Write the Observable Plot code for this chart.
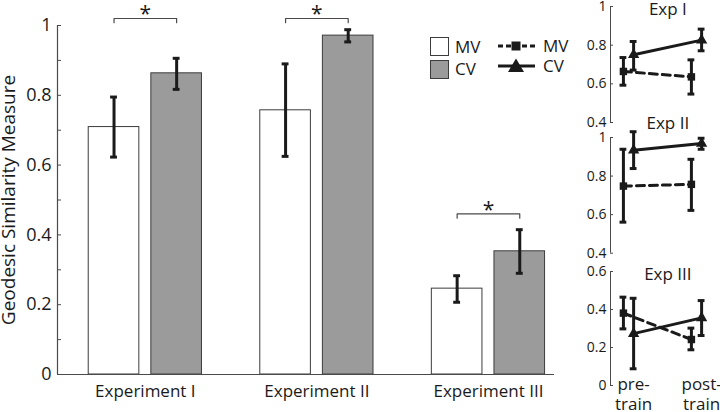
<!DOCTYPE html>
<html><head><meta charset="utf-8">
<script src="https://cdn.jsdelivr.net/npm/d3@7"></script>
<script src="https://cdn.jsdelivr.net/npm/@observablehq/plot@0.6"></script>
<style>
body{margin:0;background:#fff;}
#chart{position:relative;width:720px;height:412px;overflow:hidden;font-family:"Open Sans",sans-serif;background:#fff;}
#chart > svg{position:absolute;background:transparent;overflow:visible;}
</style></head><body><div id="chart"></div>
<script>
// ---------- main bar chart data ----------
const experiments = ["Experiment I", "Experiment II", "Experiment III"];
const conditions = ["MV", "CV"];
const mvMean = [0.709, 0.757, 0.246];
const mvLow  = [0.623, 0.625, 0.207];
const mvHigh = [0.795, 0.890, 0.283];
const cvMean = [0.863, 0.971, 0.353];
const cvLow  = [0.817, 0.953, 0.290];
const cvHigh = [0.906, 0.988, 0.415];
const sigLevel = [1.02, 1.02, 0.46];   // height of significance brackets
const yTicks = [0, 0.2, 0.4, 0.6, 0.8, 1];
const yMinorTicks = [0, 0.1, 0.2, 0.3, 0.4, 0.5, 0.6, 0.7, 0.8, 0.9, 1];
const yLabel = "Geodesic Similarity Measure";

// ---------- small panels data ----------
const panelTitles = ["Exp I", "Exp II", "Exp III"];
const phases = ["pre-\ntrain", "post-\ntrain"];
const panelMV     = [[0.664, 0.636], [0.748, 0.757], [0.381, 0.242]];
const panelMVLow  = [[0.593, 0.547], [0.561, 0.622], [0.298, 0.188]];
const panelMVHigh = [[0.736, 0.724], [0.939, 0.887], [0.465, 0.302]];
const panelCV     = [[0.750, 0.826], [0.934, 0.969], [0.273, 0.356]];
const panelCVLow  = [[0.671, 0.771], [0.839, 0.939], [0.088, 0.263]];
const panelCVHigh = [[0.819, 0.883], [1.030, 0.996], [0.459, 0.447]];
const panelDomains = [[0.4, 1], [0.4, 1], [0, 0.6]];
const panelTicks = [[0.4, 0.6, 0.8, 1], [0.4, 0.6, 0.8, 1], [0, 0.2, 0.4, 0.6]];

// ---------- styles ----------
const INK = "#1a1a1a", AXIS = "#4a4a4a", GRAY = "#9b9b9b";
const chart = document.getElementById("chart");

// ---------- main chart ----------
const rows = experiments.flatMap((e, i) => [
  {exp: e, i: i + 1, cond: "MV", side: -1, v: mvMean[i], lo: mvLow[i], hi: mvHigh[i]},
  {exp: e, i: i + 1, cond: "CV", side: +1, v: cvMean[i], lo: cvLow[i], hi: cvHigh[i]}
]);
const IN = 0.035, OUT = 0.33, MID = (IN + OUT) / 2, CAP = 0.02;
const cx = d => d.i + d.side * MID;
const sig = experiments.map((e, i) => ({i: i + 1, y: sigLevel[i]}));
const bracket = sig.flatMap(s => [
  {g: s.i, x: s.i - MID, y: s.y - 0.012},
  {g: s.i, x: s.i - MID, y: s.y},
  {g: s.i, x: s.i + MID, y: s.y},
  {g: s.i, x: s.i + MID, y: s.y - 0.012}
]);
const xDomain = [0.488, 3.385];

const main = Plot.plot({
  width: 560, height: 412,
  marginLeft: 57, marginRight: 6, marginTop: 25, marginBottom: 38,
  style: {fontFamily: "Open Sans", background: "transparent", color: INK},
  x: {domain: xDomain, axis: null},
  y: {domain: [0, 1], axis: null},
  marks: [
    Plot.rectY(rows, {
      x1: d => d.i + (d.side < 0 ? -OUT : IN),
      x2: d => d.i + (d.side < 0 ? -IN : OUT),
      y1: 0, y2: "v",
      fill: d => d.cond === "MV" ? "white" : GRAY,
      stroke: "#3c3c3c", strokeWidth: 1
    }),
    Plot.ruleX(rows, {x: cx, y1: "lo", y2: "hi", stroke: INK, strokeWidth: 3}),
    Plot.ruleY(rows, {y: "lo", x1: d => cx(d) - CAP, x2: d => cx(d) + CAP, stroke: INK, strokeWidth: 3}),
    Plot.ruleY(rows, {y: "hi", x1: d => cx(d) - CAP, x2: d => cx(d) + CAP, stroke: INK, strokeWidth: 3}),
    Plot.line(bracket, {x: "x", y: "y", z: "g", stroke: AXIS, strokeWidth: 1.2}),
    Plot.text(sig, {x: "i", y: d => d.y + 0.012, text: () => "*", fontSize: 21, fill: INK, lineAnchor: "middle"}),
    Plot.ruleY([0], {stroke: AXIS, strokeWidth: 1.2}),
    Plot.ruleX([xDomain[0]], {stroke: AXIS, strokeWidth: 1.2}),
    Plot.axisY(yMinorTicks, {tickSize: 4, dx: 4, tickFormat: () => "", stroke: AXIS, label: null}),
    Plot.axisY(yTicks, {tickSize: 0, tickPadding: 6, tickFormat: d => String(d), fontSize: 18, fill: INK, label: null}),
    Plot.axisX([1, 2, 3], {tickSize: 0, tickPadding: 10, tickFormat: d => experiments[d - 1], fontSize: 17, fill: INK, label: null}),
    Plot.text([yLabel], {frameAnchor: "left", rotate: -90, dx: -49, fontSize: 19, fill: INK, textAnchor: "middle", lineAnchor: "middle"})
  ]
});
main.style.left = "0px"; main.style.top = "0px";
chart.appendChild(main);

// ---------- legend ----------
const leg = d3.create("svg").attr("width", 720).attr("height", 412)
  .style("left", "0px").style("top", "0px").style("font-family", "Open Sans");
leg.append("rect").attr("x", 430.5).attr("y", 37.5).attr("width", 18).attr("height", 18).attr("fill", "white").attr("stroke", "#3c3c3c");
leg.append("rect").attr("x", 430.5).attr("y", 60.5).attr("width", 18).attr("height", 18).attr("fill", GRAY).attr("stroke", "#3c3c3c");
leg.append("text").attr("x", 455).attr("y", 47).attr("dy", "0.35em").attr("font-size", 17).attr("fill", INK).text(conditions[0]);
leg.append("text").attr("x", 455).attr("y", 69).attr("dy", "0.35em").attr("font-size", 17).attr("fill", INK).text(conditions[1]);
leg.append("line").attr("x1", 498).attr("x2", 535).attr("y1", 46).attr("y2", 46).attr("stroke", INK).attr("stroke-width", 3).attr("stroke-dasharray", "5,3");
leg.append("rect").attr("x", 511.5).attr("y", 41.5).attr("width", 9).attr("height", 9).attr("fill", INK);
leg.append("line").attr("x1", 498).attr("x2", 535).attr("y1", 66).attr("y2", 66).attr("stroke", INK).attr("stroke-width", 3);
leg.append("path").attr("d", "M516,58.5L524,72L508,72Z").attr("fill", INK);
leg.append("text").attr("x", 543).attr("y", 46).attr("dy", "0.35em").attr("font-size", 17).attr("fill", INK).text(conditions[0]);
leg.append("text").attr("x", 543).attr("y", 66).attr("dy", "0.35em").attr("font-size", 17).attr("fill", INK).text(conditions[1]);
chart.appendChild(leg.node());

// ---------- small panels ----------
const panelBoxes = [
  {top: 0,   height: 128, mt: 6, mb: 6,   titleDy: 3},
  {top: 130, height: 128, mt: 7, mb: 5.3, titleDy: -14},
  {top: 262, height: 150, mt: 9, mb: 27,  titleDy: 3}
];
const pxDomain = [0.66, 2.2];
const OFF = 0.15, PCAP = 0.05;
panelTitles.forEach((title, p) => {
  const box = panelBoxes[p];
  const mv = phases.map((ph, j) => ({t: j + 1 - OFF, v: panelMV[p][j], lo: panelMVLow[p][j], hi: panelMVHigh[p][j]}));
  const cv = phases.map((ph, j) => ({t: j + 1, v: panelCV[p][j], lo: panelCVLow[p][j], hi: panelCVHigh[p][j]}));
  const both = mv.concat(cv);
  const marks = [
    Plot.ruleX([pxDomain[0]], {stroke: AXIS}),
    Plot.axisY(panelTicks[p], {tickSize: 3, dx: 3, tickFormat: () => "", stroke: AXIS, label: null}),
    Plot.axisY(panelTicks[p], {tickSize: 0, tickPadding: 4, tickFormat: d => String(d), fontSize: 14, fill: INK, label: null}),
    Plot.line(mv, {x: "t", y: "v", stroke: INK, strokeWidth: 3, strokeDasharray: "8,5"}),
    Plot.line(cv, {x: "t", y: "v", stroke: INK, strokeWidth: 3}),
    Plot.ruleX(both, {x: "t", y1: "lo", y2: "hi", stroke: INK, strokeWidth: 3}),
    Plot.ruleY(both, {y: "lo", x1: d => d.t - PCAP, x2: d => d.t + PCAP, stroke: INK, strokeWidth: 3}),
    Plot.ruleY(both, {y: "hi", x1: d => d.t - PCAP, x2: d => d.t + PCAP, stroke: INK, strokeWidth: 3}),
    Plot.dot(mv, {x: "t", y: "v", symbol: "square", r: 4.2, fill: INK}),
    Plot.dot(cv, {x: "t", y: "v", symbol: "triangle", r: 4.2, fill: INK}),
    Plot.text([title], {frameAnchor: "top", dx: 5, dy: box.titleDy, lineAnchor: "middle", fontSize: 17, fill: INK})
  ];
  if (p === 2) marks.push(Plot.axisX([1, 2], {tickSize: 0, tickPadding: 0, dy: -10, tickFormat: d => phases[d - 1], fontSize: 17, lineHeight: 1.2, fill: INK, label: null}));
  const svg = Plot.plot({
    width: 160, height: box.height,
    marginLeft: 50, marginRight: 5.3, marginTop: box.mt, marginBottom: box.mb,
    style: {fontFamily: "Open Sans", background: "transparent", color: INK},
    x: {domain: pxDomain, axis: null},
    y: {domain: panelDomains[p], axis: null},
    marks
  });
  svg.style.left = "560px"; svg.style.top = box.top + "px";
  chart.appendChild(svg);
});
</script></body></html>
